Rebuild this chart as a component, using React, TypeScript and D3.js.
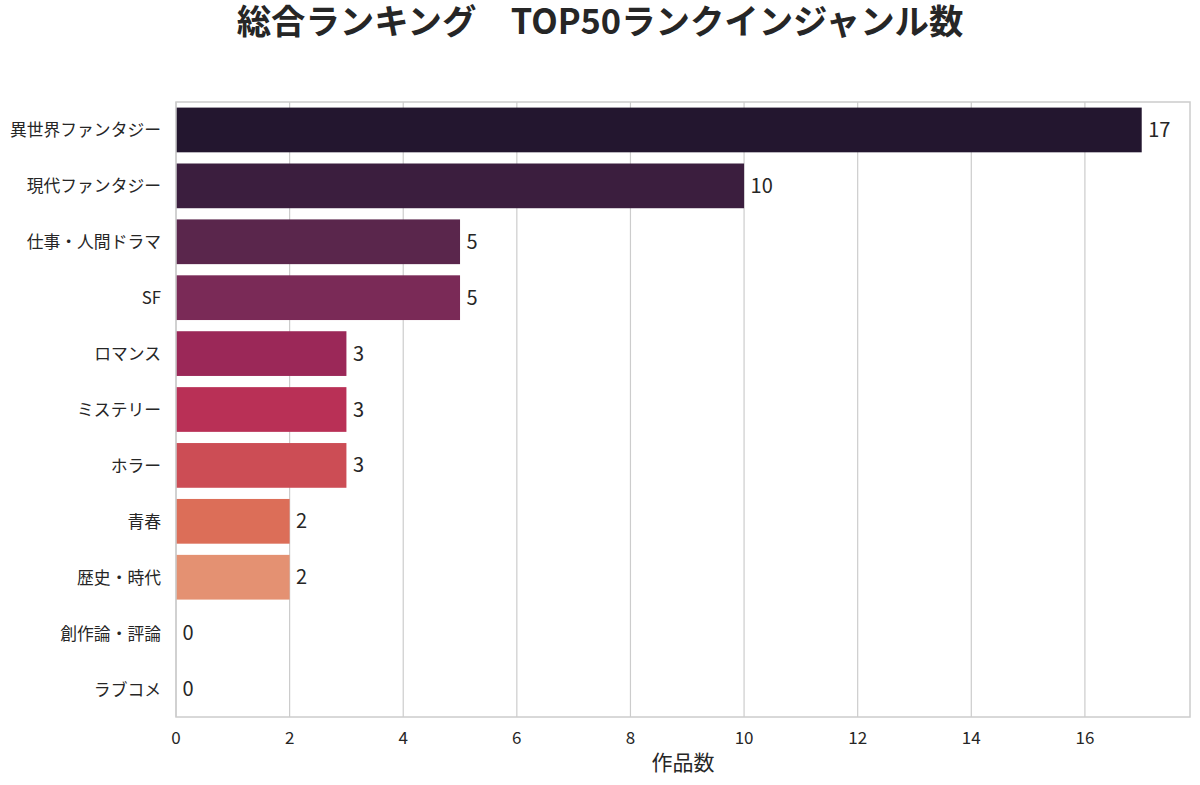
import React from "react";
import * as d3 from "d3";

const categories = [
  "異世界ファンタジー",
  "現代ファンタジー",
  "仕事・人間ドラマ",
  "SF",
  "ロマンス",
  "ミステリー",
  "ホラー",
  "青春",
  "歴史・時代",
  "創作論・評論",
  "ラブコメ",
];
const values = [17, 10, 5, 5, 3, 3, 3, 2, 2, 0, 0];
const colors = [
  "#23162f",
  "#3b1e3e",
  "#5a264c",
  "#7a2a57",
  "#9b2858",
  "#b93056",
  "#cc4d55",
  "#dc6e58",
  "#e49172",
  "#ebb292",
  "#f3d2bb",
];
const xTicks = [0, 2, 4, 6, 8, 10, 12, 14, 16];
const title = "総合ランキング　TOP50ランクインジャンル数";
const xLabel = "作品数";

const W = 1200;
const H = 785;
const M = { left: 176, right: 10, top: 102, bottom: 68 };
const FONT = "'Noto Sans CJK JP', 'Noto Sans', sans-serif";

export default function App() {
  const x = d3
    .scaleLinear()
    .domain([0, d3.max(values)! * 1.05])
    .range([M.left, W - M.right]);
  const y = d3
    .scaleBand<string>()
    .domain(categories)
    .range([M.top, H - M.bottom])
    .paddingInner(0.2)
    .paddingOuter(0.1);

  return (
    <svg
      width={W}
      height={H}
      style={{ position: "absolute", left: 0, top: 0, background: "#fff" }}
      fontFamily={FONT}
    >
      <rect x={0} y={0} width={W} height={H} fill="#fff" />
      <text
        x={600}
        y={34}
        textAnchor="middle"
        fontSize={34.4}
        fontWeight="bold"
        fill="#262626"
      >
        {title}
      </text>
      {xTicks.map((t) => (
        <line
          key={"g" + t}
          x1={x(t)}
          x2={x(t)}
          y1={M.top}
          y2={H - M.bottom}
          stroke="#cccccc"
          strokeWidth={1.2}
        />
      ))}
      {categories.map((c, i) => (
        <rect
          key={c}
          x={x(0)}
          y={y(c)!}
          width={x(values[i]) - x(0)}
          height={y.bandwidth()}
          fill={colors[i]}
        />
      ))}
      <rect
        x={M.left}
        y={M.top}
        width={W - M.right - M.left}
        height={H - M.bottom - M.top}
        fill="none"
        stroke="#cccccc"
        strokeWidth={1.5}
      />
      {categories.map((c, i) => (
        <text
          key={"v" + c}
          x={x(values[i]) + 6.5}
          y={y(c)! + y.bandwidth() / 2 + 7}
          fontSize={20}
          fill="#262626"
        >
          {values[i]}
        </text>
      ))}
      {categories.map((c) => (
        <text
          key={"l" + c}
          x={M.left - 15}
          y={y(c)! + y.bandwidth() / 2 + 6.5}
          textAnchor="end"
          fontSize={16.8}
          fill="#262626"
        >
          {c}
        </text>
      ))}
      {xTicks.map((t) => (
        <text
          key={"t" + t}
          x={x(t)}
          y={744}
          textAnchor="middle"
          fontSize={17}
          fill="#262626"
        >
          {t}
        </text>
      ))}
      <text
        x={(M.left + W - M.right) / 2}
        y={770}
        textAnchor="middle"
        fontSize={21}
        fill="#262626"
      >
        {xLabel}
      </text>
    </svg>
  );
}
